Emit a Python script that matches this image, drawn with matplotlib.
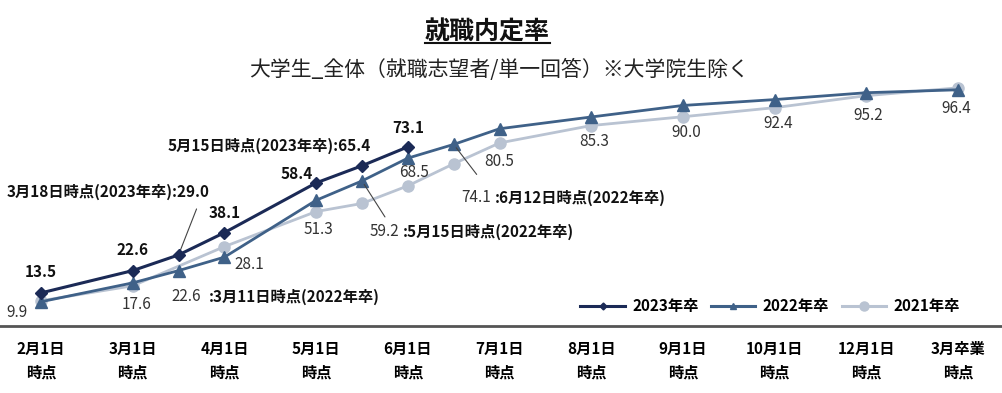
import matplotlib
matplotlib.use("Agg")
import matplotlib.pyplot as plt
from matplotlib.lines import Line2D

plt.rcParams['font.family'] = ['Noto Sans CJK JP', 'DejaVu Sans']

# categories on the x axis
cats = ['2月1日\n時点', '3月1日\n時点', '4月1日\n時点', '5月1日\n時点', '6月1日\n時点',
        '7月1日\n時点', '8月1日\n時点', '9月1日\n時点', '10月1日\n時点', '12月1日\n時点',
        '3月卒業\n時点']

# series (x = category index, half steps are mid-month points)
x23 = [0, 1, 1.5, 2, 3, 3.5, 4]
v23 = [13.5, 22.6, 29.0, 38.1, 58.4, 65.4, 73.1]
x22 = [0, 1, 1.5, 2, 3, 3.5, 4, 4.5, 5, 6, 7, 8, 9, 10]
v22 = [9.9, 17.6, 22.6, 28.1, 51.3, 59.2, 68.5, 74.1, 80.5, 85.3, 90.0, 92.4, 95.2, 96.4]
x21 = [0, 1, 2, 3, 3.5, 4, 4.5, 5, 6, 7, 8, 9, 10]
v21 = [10.3, 16.4, 32.4, 46.7, 50.0, 57.2, 66.2, 74.7, 81.8, 85.4, 89.1, 94.0, 97.2]

c23 = '#1b2a56'
c22 = '#3f6188'
c21 = '#b9c3d2'

fig = plt.figure(figsize=(10.03, 3.93), dpi=100)
ax = fig.add_axes([0, 0.1705, 1, 0.6235])

ax.plot(x21, v21, color=c21, lw=2.0, marker='o', ms=8, zorder=2)
ax.plot(x22, v22, color=c22, lw=2.0, marker='^', ms=8, zorder=3)
ax.plot(x23, v23, color=c23, lw=2.2, marker='D', ms=6, zorder=4)

ax.set_xlim(-0.447, 10.49)
ax.set_ylim(0, 100)
ax.set_yticks([])
ax.set_xticks(range(len(cats)))
ax.set_xticklabels(cats, fontsize=11, fontweight='bold', linespacing=1.55)
ax.tick_params(axis='x', length=0, pad=11)
for s in ['top', 'left', 'right']:
    ax.spines[s].set_visible(False)
ax.spines['bottom'].set_color('#555555')
ax.spines['bottom'].set_linewidth(2)

def lab(x, v, t, dx, dy, bold=False, ha='center', color='#222222'):
    ax.annotate(t, (x, v), xytext=(dx, dy), textcoords='offset pixels',
                ha=ha, va='center', fontsize=11,
                fontweight='bold' if bold else 'normal', color=color, zorder=6)

def leader(x, v, dx, dy):
    ax.annotate('', (x, v), xytext=(dx, dy), textcoords='offset pixels',
                arrowprops=dict(arrowstyle='-', color='#444444', lw=0.8,
                                shrinkA=0, shrinkB=3))

# 2023 labels
lab(x23[0], v23[0], '13.5', 0, 21, bold=True, color='#111111')
lab(x23[1], v23[1], '22.6', 0, 21, bold=True, color='#111111')
lab(x23[2], v23[2], '3月18日時点(2023年卒):29.0', -70, 63, bold=True, color='#111111')
leader(x23[2], v23[2], 18, 46)
lab(x23[3], v23[3], '38.1', 0, 20, bold=True, color='#111111')
lab(x23[4], v23[4], '58.4', -19, 9, bold=True, color='#111111')
lab(x23[5], v23[5], '5月15日時点(2023年卒):65.4', -93, 20, bold=True, color='#111111')
lab(x23[6], v23[6], '73.1', 0, 19, bold=True, color='#111111')

# 2022 labels
c_lab = '#333333'
lab(x22[0], v22[0], '9.9', -24, -11, color=c_lab)
lab(x22[1], v22[1], '17.6', 4, -22, color=c_lab)
lab(x22[2], v22[2], '22.6', 22, -26, ha='right', color=c_lab)
lab(x22[2], v22[2], ':3月11日時点(2022年卒)', 30, -26, bold=True, ha='left', color='#111111')
lab(x22[3], v22[3], '28.1', 25, -7, color=c_lab)
lab(x22[4], v22[4], '51.3', 2, -29, color=c_lab)
lab(x22[5], v22[5], '59.2', 37, -51, ha='right', color=c_lab)
lab(x22[5], v22[5], ':5月15日時点(2022年卒)', 41, -51, bold=True, ha='left', color='#111111')
leader(x22[5], v22[5], 23, -36)
lab(x22[6], v22[6], '68.5', 6, -14, color=c_lab)
lab(x22[7], v22[7], '74.1', 37, -53, ha='right', color=c_lab)
lab(x22[7], v22[7], ':6月12日時点(2022年卒)', 41, -53, bold=True, ha='left', color='#111111')
leader(x22[7], v22[7], 23, -30)
lab(x22[8], v22[8], '80.5', 0, -33, color=c_lab)
lab(x22[9], v22[9], '85.3', 3, -25, color=c_lab)
lab(x22[10], v22[10], '90.0', 3, -27, color=c_lab)
lab(x22[11], v22[11], '92.4', 4, -24, color=c_lab)
lab(x22[12], v22[12], '95.2', 2, -23, color=c_lab)
lab(x22[13], v22[13], '96.4', -2, -19, color=c_lab)

# legend
handles = [Line2D([], [], color=c23, lw=2.2, marker='D', ms=3.5),
           Line2D([], [], color=c22, lw=2.2, marker='^', ms=4.5),
           Line2D([], [], color=c21, lw=2.2, marker='o', ms=6.5)]
leg = ax.legend(handles, ['2023年卒', '2022年卒', '2021年卒'], ncol=3, frameon=False,
                loc='center right', bbox_to_anchor=(0.957, 0.221),
                bbox_transform=fig.transFigure, borderpad=0, borderaxespad=0,
                handlelength=2.9, handletextpad=0.5, columnspacing=0.8,
                prop={'size': 11, 'weight': 'bold'})

# titles
title = fig.text(0.486, 0.916, '就職内定率', ha='center', va='center',
                 fontsize=18, fontweight='bold', color='#111111')
fig.text(0.498, 0.822, '大学生_全体（就職志望者/単一回答）※大学院生除く', ha='center',
         va='center', fontsize=15, color='#222222')

fig.canvas.draw()
bb = title.get_window_extent().transformed(fig.transFigure.inverted())
fig.add_artist(Line2D([bb.x0, bb.x1], [bb.y0 + 0.004, bb.y0 + 0.004],
                      color='#111111', lw=1.5, transform=fig.transFigure))

fig.savefig('out.png', dpi=100)
